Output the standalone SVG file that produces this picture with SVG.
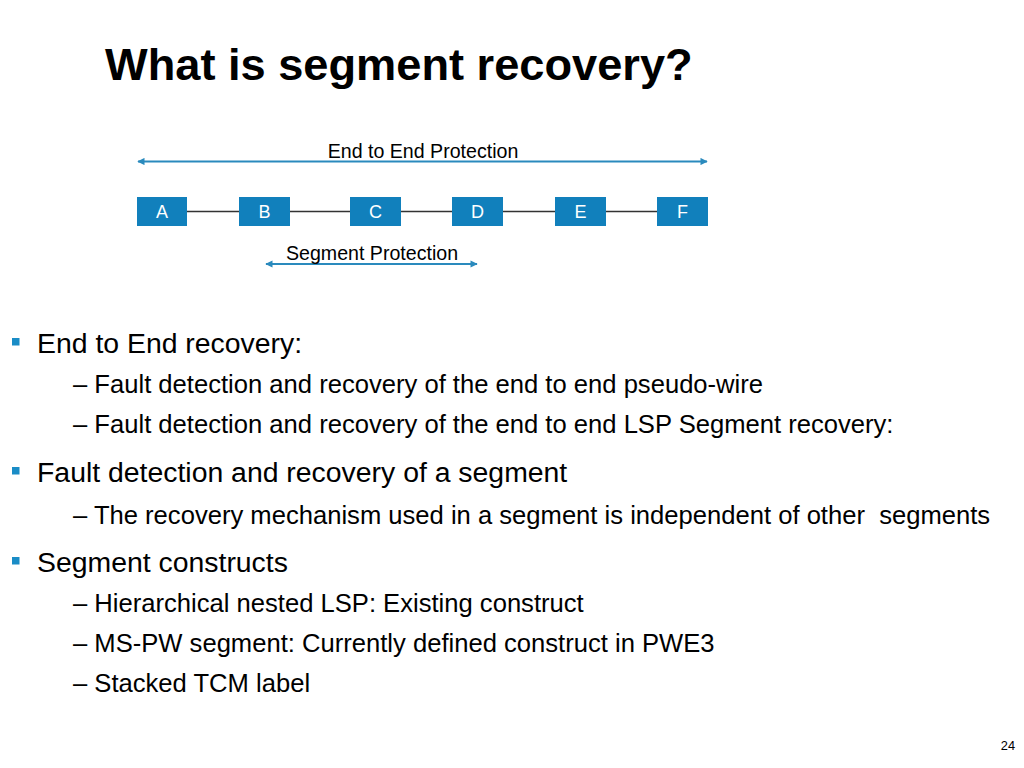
<svg xmlns="http://www.w3.org/2000/svg" width="1024" height="768" viewBox="0 0 1024 768">
<defs>
<style>
text{font-family:"Liberation Sans",Arial,sans-serif;fill:#000}
.title{font-size:45.2px;font-weight:bold}
.lbl{font-size:19.6px}
.node rect{fill:#1180bc}
.node text{fill:#fff;font-size:18px;text-anchor:middle}
.main{font-size:28.4px}
.sub{font-size:25.6px}
.bul{fill:#1a8cc6}
.link{stroke:#333;stroke-width:1.3}
.arr{stroke:#2a8abd;stroke-width:1.8;fill:none}
</style>
<marker id="ah" viewBox="0 0 10 10" refX="9" refY="5" markerWidth="5" markerHeight="4" orient="auto-start-reverse" markerUnits="strokeWidth">
<path d="M0,0 L10,5 L0,10 z" fill="#2a8abd"/>
</marker>
</defs>
<rect width="1024" height="768" fill="#fff"/>
<text class="title" x="105" y="80">What is segment recovery?</text>

<g id="connectors">
<line class="link" x1="187" y1="211.5" x2="239" y2="211.5"/>
<line class="link" x1="290" y1="211.5" x2="350" y2="211.5"/>
<line class="link" x1="401" y1="211.5" x2="452" y2="211.5"/>
<line class="link" x1="503" y1="211.5" x2="555" y2="211.5"/>
<line class="link" x1="606" y1="211.5" x2="657" y2="211.5"/>
<line class="arr" x1="138" y1="161.5" x2="707" y2="161.5" marker-start="url(#ah)" marker-end="url(#ah)"/>
<line class="arr" x1="266" y1="264" x2="477" y2="264" marker-start="url(#ah)" marker-end="url(#ah)"/>
</g>
<text class="lbl" x="423" y="158" text-anchor="middle">End to End Protection</text>
<text class="lbl" x="372" y="260" text-anchor="middle">Segment Protection</text>

<g id="nodeA" class="node"><rect x="137" y="197" width="50" height="29"/><text x="162" y="218">A</text></g>
<g id="nodeB" class="node"><rect x="239" y="197" width="51" height="29"/><text x="264.5" y="218">B</text></g>
<g id="nodeC" class="node"><rect x="350" y="197" width="51" height="29"/><text x="375.5" y="218">C</text></g>
<g id="nodeD" class="node"><rect x="452" y="197" width="51" height="29"/><text x="477.5" y="218">D</text></g>
<g id="nodeE" class="node"><rect x="555" y="197" width="51" height="29"/><text x="580.5" y="218">E</text></g>
<g id="nodeF" class="node"><rect x="657" y="197" width="51" height="29"/><text x="682.5" y="218">F</text></g>

<rect class="bul" x="12" y="338" width="7.5" height="7.5"/>
<text class="main" x="37" y="353">End to End recovery:</text>
<text class="sub" x="73" y="393">– Fault detection and recovery of the end to end pseudo-wire</text>
<text class="sub" x="73" y="433">– Fault detection and recovery of the end to end LSP Segment recovery:</text>
<rect class="bul" x="12" y="467" width="7.5" height="7.5"/>
<text class="main" x="37" y="482">Fault detection and recovery of a segment</text>
<text class="sub" x="73" y="524" xml:space="preserve">– The recovery mechanism used in a segment is independent of other  segments</text>
<rect class="bul" x="12" y="557" width="7.5" height="7.5"/>
<text class="main" x="37" y="572">Segment constructs</text>
<text class="sub" x="73" y="612">– Hierarchical nested LSP: Existing construct</text>
<text class="sub" x="73" y="652">– MS-PW segment: Currently defined construct in PWE3</text>
<text class="sub" x="73" y="692">– Stacked TCM label</text>

<text x="1015" y="750" font-size="12.8" text-anchor="end">24</text>
</svg>
